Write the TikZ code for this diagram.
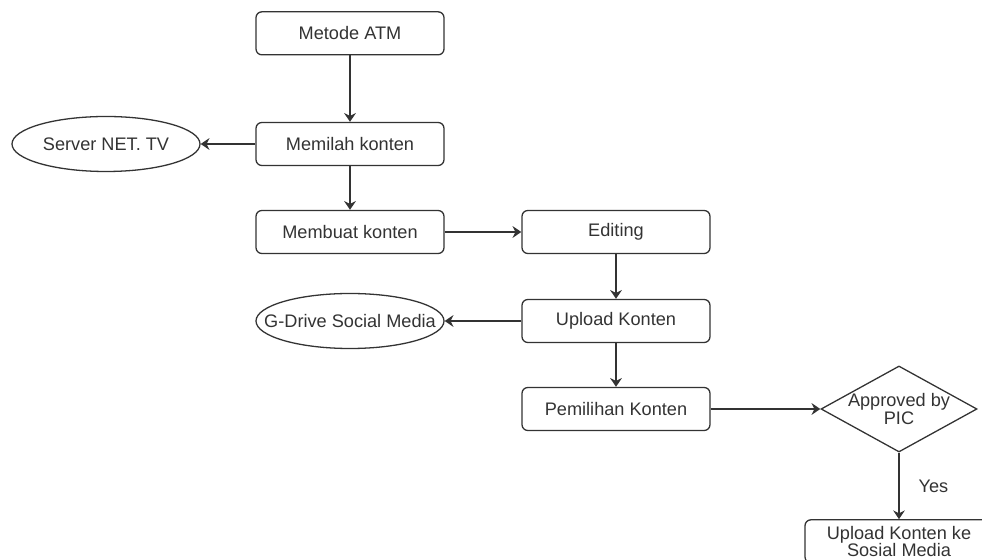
\documentclass[tikz,border=0pt]{standalone}
\usepackage{fontspec}
\setmainfont{Liberation Sans}
\usepackage{tikz}
\usetikzlibrary{shapes,arrows.meta,positioning}
\definecolor{linegray}{HTML}{333333}
\tikzstyle{proc}=[rectangle,rounded corners=5pt,draw=linegray,line width=1.1pt,minimum width=5.64cm,minimum height=1.29cm,text=linegray,align=center,font=\fontsize{15.5}{15}\selectfont]
\tikzstyle{store}=[ellipse,draw=linegray,line width=1.1pt,minimum width=5.64cm,minimum height=1.65cm,inner xsep=-18pt,inner ysep=0pt,text=linegray,font=\fontsize{15.5}{15}\selectfont]
\tikzstyle{decide}=[diamond,draw=linegray,line width=1.1pt,minimum width=4.68cm,minimum height=2.58cm,inner xsep=-14pt,inner ysep=-6pt,text=linegray,align=center,font=\fontsize{15.5}{13.5}\selectfont]
\tikzstyle{flow}=[line width=1.1pt,draw=linegray,-{Stealth[length=7.5pt,width=10pt,inset=2.5pt]}]

\begin{document}
\begin{tikzpicture}
		\useasboundingbox (0,0) rectangle (29.46,16.8);

		% nodes
		\node[proc] (atm) at (10.5,15.8) {Metode ATM};
		\node[proc] (memilah) at (10.5,12.48) {Memilah konten};
		\node[store] (server) at (3.18,12.48) {Server NET. TV};
		\node[proc] (membuat) at (10.5,9.84) {Membuat konten};
		\node[proc] (editing) at (18.48,9.84) {Editing};
		\node[proc] (upload) at (18.48,7.17) {Upload Konten};
		\node[store] (gdrive) at (10.5,7.17) {G-Drive Social Media};
		\node[proc] (pemilihan) at (18.48,4.53) {Pemilihan Konten};
		\node[decide] (pic) at (26.97,4.53) {Approved by\\PIC};
		\node[proc] (sosmed) at (26.97,0.56) {Upload Konten ke\\Sosial Media};

		% connectors
		\draw[flow] (atm) -- (memilah);
		\draw[flow] (memilah) -- (server);
		\draw[flow] (memilah) -- (membuat);
		\draw[flow] (membuat) -- (editing);
		\draw[flow] (editing) -- (upload);
		\draw[flow] (upload) -- (gdrive);
		\draw[flow] (upload) -- (pemilihan);
		\draw[flow] (pemilihan) -- (pic);
		\draw[flow] (pic) -- (sosmed)
			node[midway,anchor=west,xshift=0.45cm,text=linegray,font=\fontsize{15.5}{15}\selectfont] {Yes};
	\end{tikzpicture}
\end{document}
